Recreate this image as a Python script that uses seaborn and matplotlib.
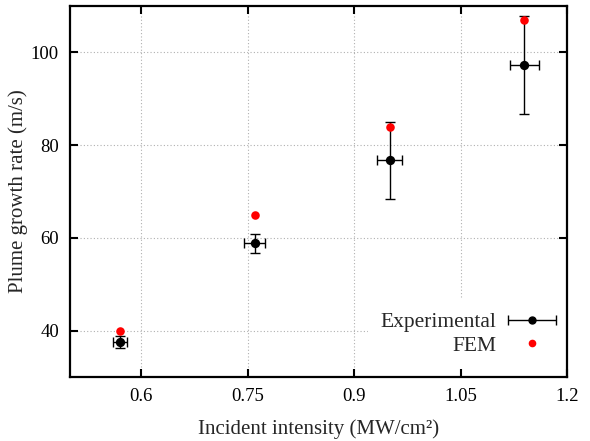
import numpy as np
import pandas as pd
import matplotlib
matplotlib.use("Agg")
import matplotlib.pyplot as plt
from matplotlib.container import ErrorbarContainer
from matplotlib.legend_handler import HandlerErrorbar
import seaborn as sns

# Data
intensity = [0.57, 0.76, 0.95, 1.14]
intensity_err = [0.01, 0.015, 0.017, 0.02]
exp_rate = [37.5, 58.8, 76.7, 97.3]
exp_rate_err = [1.35, 2.0, 8.3, 10.5]
fem_rate = [40.0, 65.0, 84.0, 107.0]

xticks = [0.6, 0.75, 0.9, 1.05, 1.2]
xtick_labels = ["0.6", "0.75", "0.9", "1.05", "1.2"]
yticks = [40, 60, 80, 100]

sns.set_theme(style="ticks")
plt.rcParams['font.family'] = ['Liberation Serif', 'DejaVu Serif']
plt.rcParams['mathtext.fontset'] = 'stix'

df_exp = pd.DataFrame({"x": intensity, "y": exp_rate})
df_fem = pd.DataFrame({"x": intensity, "y": fem_rate})

fig = plt.figure(figsize=(5.9, 4.41), dpi=100)
ax = fig.add_axes([70/590, 1 - 377/441, (567-70)/590, (377-6)/441])

ax.errorbar(intensity, exp_rate, xerr=intensity_err, yerr=exp_rate_err,
            fmt='none', ecolor='black', elinewidth=1.0, capsize=3.5, capthick=1.0, zorder=3)
sns.scatterplot(data=df_exp, x="x", y="y", ax=ax, color="black", s=45,
                edgecolor="black", linewidth=0, zorder=4, legend=False)
sns.scatterplot(data=df_fem, x="x", y="y", ax=ax, color="#ff0000", s=38,
                edgecolor="#ff0000", linewidth=0, zorder=5, legend=False)

# legend proxies
h_exp = ax.errorbar([np.nan], [np.nan], xerr=[0.1], fmt='o', color='black',
                    markersize=5, elinewidth=1.0, capsize=3.5, capthick=1.0)
h_fem, = ax.plot([np.nan], [np.nan], 'o', color='#ff0000', markersize=5.5, markeredgewidth=0)
leg = ax.legend([h_exp, h_fem], ["Experimental", "FEM"], loc="lower right",
                markerfirst=False, frameon=True, fancybox=False, fontsize=15.5,
                handlelength=2.3, labelspacing=0.15, borderaxespad=0.3,
                borderpad=0.6, handletextpad=0.5,
                bbox_to_anchor=(1.018, 0.005),
                handler_map={ErrorbarContainer: HandlerErrorbar(xerr_size=1.12)})
leg.get_frame().set_facecolor("white")
leg.get_frame().set_edgecolor("none")
leg.get_frame().set_alpha(1.0)
leg.set_zorder(2.4)

ax.set_xlim(0.5, 1.2)
ax.set_ylim(30, 110)
ax.set_xticks(xticks)
ax.set_xticklabels(xtick_labels)
ax.set_yticks(yticks)
ax.grid(True, linestyle=(0, (1, 2)), color="#b0b0b0", linewidth=0.8)
ax.set_axisbelow(True)

for sp in ax.spines.values():
    sp.set_visible(True)
    sp.set_linewidth(1.6)
    sp.set_color("black")
    sp.set_zorder(3)
ax.tick_params(direction="in", length=5.5, width=1.5, top=True, right=True,
               labelsize=13.5, pad=8, colors="black")

ax.set_xlabel("Incident intensity (MW/cm²)", fontsize=15, labelpad=10)
ax.set_ylabel("Plume growth rate (m/s)", fontsize=15, labelpad=2)

fig.savefig("out.png", dpi=100)
